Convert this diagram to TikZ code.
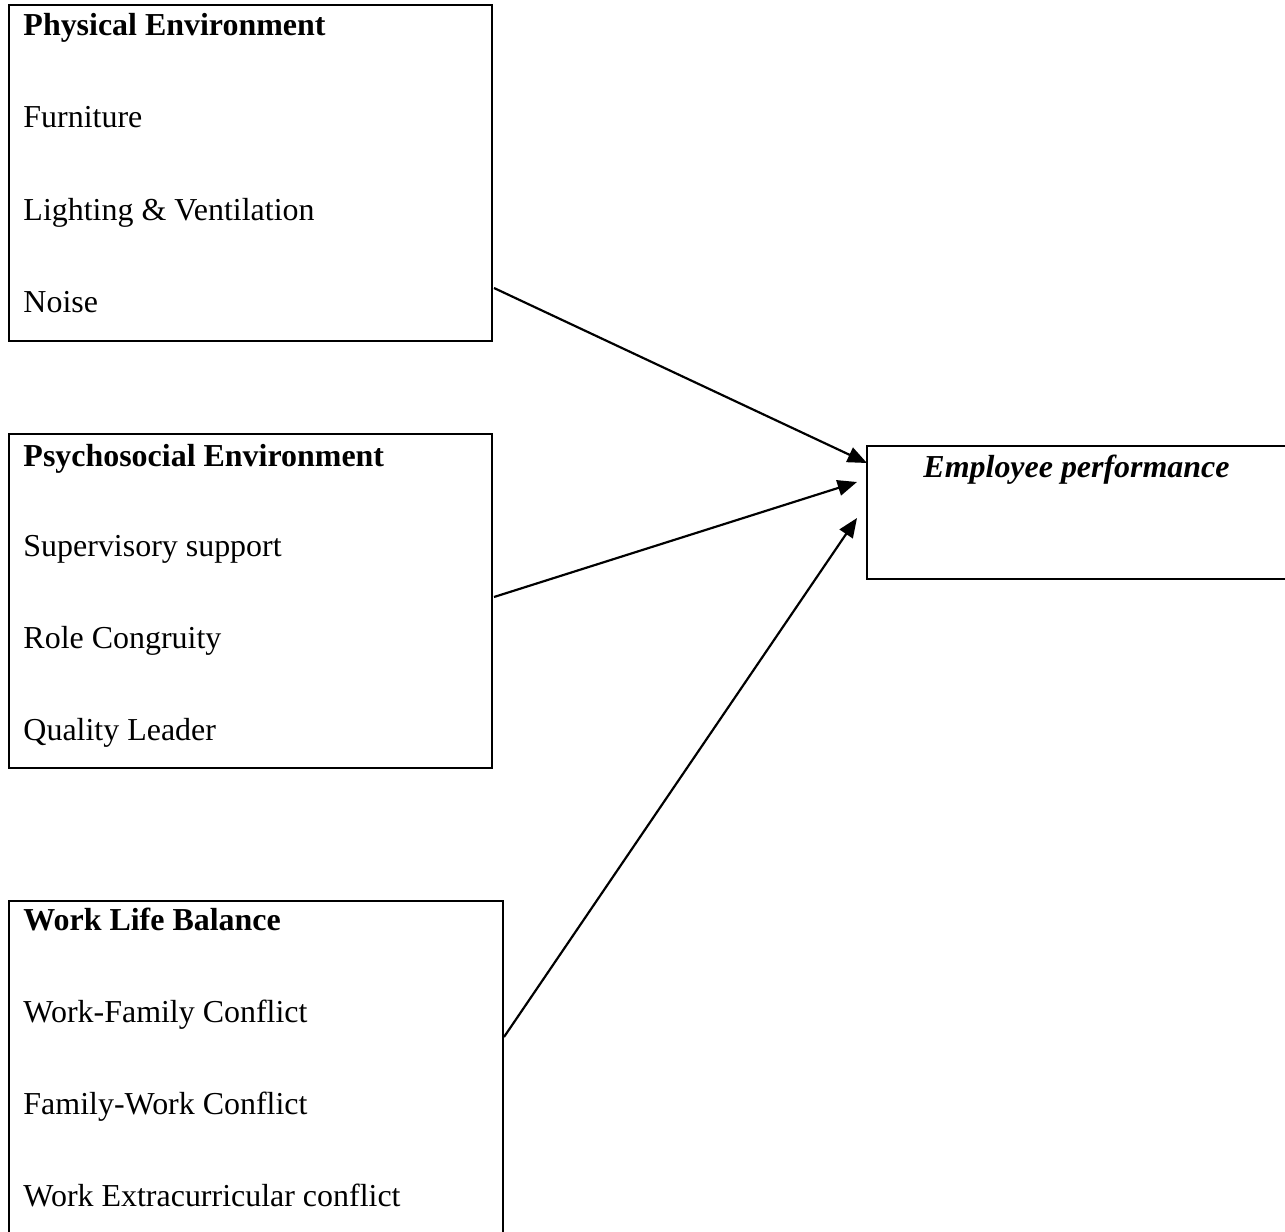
\documentclass[tikz,border=0pt]{standalone}
\usepackage{fontspec}
\setmainfont{Liberation Serif}
\usetikzlibrary{arrows.meta,fit}
\begin{document}
\begin{tikzpicture}[x=0.4132pt,y=-0.4132pt,
  box/.style={draw=black,line width=0.65pt,inner sep=0pt,fill=none},
  txt/.style={anchor=base west,inner sep=0pt,font=\fontsize{13.2}{15}\selectfont},
  head/.style={txt,font=\fontsize{13.2}{15}\selectfont\bfseries},
  link/.style={line width=0.9pt,-{Triangle[length=8pt,width=6.5pt]}}]
\useasboundingbox (0,0) rectangle (1285,1232);
\clip (0,0) rectangle (1285,1232);
% boxes
\coordinate (b1a) at (9,5);   \coordinate (b1b) at (492,341);
\coordinate (b2a) at (9,434); \coordinate (b2b) at (492,768);
\coordinate (b3a) at (9,901); \coordinate (b3b) at (503,1300);
\coordinate (b4a) at (867,446); \coordinate (b4b) at (1320,579);
\node[box,fit=(b1a)(b1b)] (pe) {};
\node[box,fit=(b2a)(b2b)] (ps) {};
\node[box,fit=(b3a)(b3b)] (wl) {};
\node[box,fit=(b4a)(b4b)] (ep) {};
% texts
\node[head] (pe0) at (23,36) {Physical Environment};
\node[txt] (pe1) at (23,128) {Furniture};
\node[txt] (pe2) at (23,221) {Lighting \& Ventilation};
\node[txt] (pe3) at (23,313) {Noise};
\node[head] (ps0) at (23,466) {Psychosocial Environment};
\node[txt] (ps1) at (23,556) {Supervisory support};
\node[txt] (ps2) at (23,648) {Role Congruity};
\node[txt] (ps3) at (23,740) {Quality Leader};
\node[head] (wl0) at (23,930) {Work Life Balance};
\node[txt] (wl1) at (23,1022) {Work-Family Conflict};
\node[txt] (wl2) at (23,1114) {Family-Work Conflict};
\node[txt] (wl3) at (23,1206) {Work Extracurricular conflict};
\node[txt,font=\fontsize{13.2}{15}\selectfont\bfseries\itshape] (ep0) at (923,477) {Employee performance};
% connectors
\coordinate (s1) at (494,288); \coordinate (t1) at (867,463);
\coordinate (s2) at (494,597); \coordinate (t2) at (857,482);
\coordinate (s3) at (504,1037); \coordinate (t3) at (857,518);
\draw[link] (s1) -- (t1);
\draw[link] (s2) -- (t2);
\draw[link] (s3) -- (t3);
\end{tikzpicture}
\end{document}
